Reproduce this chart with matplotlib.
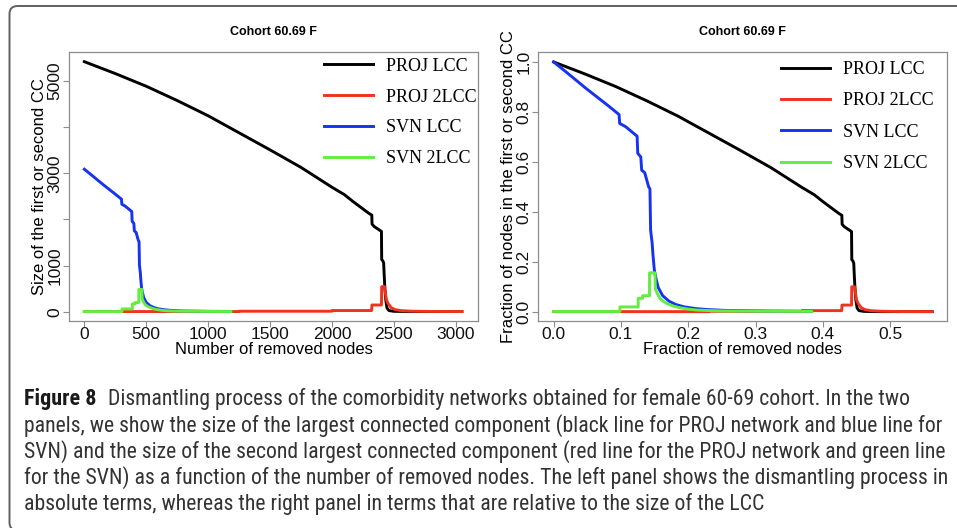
import matplotlib
matplotlib.use('Agg')
import matplotlib.pyplot as plt
from matplotlib import font_manager
from matplotlib.font_manager import FontProperties
from matplotlib.patches import FancyBboxPatch
from matplotlib.lines import Line2D

# ---------------- data (absolute number of nodes) ----------------
proj_lcc_x = [0, 250, 500, 750, 1000, 1250, 1500, 1750, 2000, 2100, 2170, 2240, 2300, 2322,
              2324, 2340, 2395, 2400, 2402, 2412, 2418, 2422, 2428, 2435, 2445, 2460, 2500, 2600, 3050]
proj_lcc_y = [5423, 5165, 4890, 4580, 4250, 3880, 3510, 3130, 2700, 2540, 2390, 2250, 2130, 2095,
              1900, 1850, 1750, 1740, 1130, 1100, 1050, 800, 500, 250, 80, 25, 8, 4, 3]

proj_2lcc_x = [0, 1250, 1252, 2000, 2002, 2321, 2323, 2400, 2402, 2425, 2432, 2440, 2455,
               2480, 2510, 2560, 2650, 2800, 3050]
proj_2lcc_y = [3, 3, 10, 10, 25, 25, 145, 145, 543, 543, 400, 260, 170, 85, 45, 22, 10, 5, 3]

svn_lcc_x = [0, 60, 150, 250, 300, 303, 330, 383, 386, 400, 404, 418, 436, 442, 445, 452,
             456, 462, 468, 480, 500, 530, 560, 600, 650, 700, 800, 1000, 1185]
svn_lcc_y = [3090, 2960, 2760, 2550, 2440, 2330, 2290, 2172, 1960, 1915, 1752, 1720, 1545, 1520,
             1010, 850, 700, 520, 430, 300, 200, 130, 90, 60, 40, 28, 15, 8, 5]

svn_2lcc_x = [0, 304, 304, 388, 388, 408, 408, 440, 440, 465, 467, 475, 488, 500, 519, 550,
              580, 620, 657, 720, 800, 1000, 1185]
svn_2lcc_y = [3, 3, 60, 60, 166, 166, 198, 198, 482, 482, 280, 230, 166, 135, 104, 70, 49,
              32, 21, 14, 9, 5, 4]

proj_size = 5423   # initial LCC size of PROJ network
svn_size = 3090    # initial LCC size of SVN network

series_labels = ['PROJ LCC', 'PROJ 2LCC', 'SVN LCC', 'SVN 2LCC']
series_colors = ['#000000', '#f0321f', '#1533f0', '#62ee3e']

panel_title = 'Cohort 60.69 F'
left_xticks = [0, 500, 1000, 1500, 2000, 2500, 3000]
left_yticks = [0, 1000, 2000, 3000, 4000, 5000]
left_yticklabels = ['0', '1000', '', '3000', '', '5000']
right_xticks = [0.0, 0.1, 0.2, 0.3, 0.4, 0.5]
right_yticks = [0.0, 0.2, 0.4, 0.6, 0.8, 1.0]

caption_head = 'Figure 8'
caption_lines = [
    'Dismantling process of the comorbidity networks obtained for female 60-69 cohort. In the two',
    'panels, we show the size of the largest connected component (black line for PROJ network and blue line for',
    'SVN) and the size of the second largest connected component (red line for the PROJ network and green line',
    'for the SVN) as a function of the number of removed nodes. The left panel shows the dismantling process in',
    'absolute terms, whereas the right panel in terms that are relative to the size of the LCC',
]


def pick(fams):
    for f in fams:
        try:
            font_manager.findfont(FontProperties(family=f), fallback_to_default=False)
            return f
        except Exception:
            pass
    return 'DejaVu Sans'


def find_condensed(bold=False):
    prefs = ['Liberation Sans Narrow', 'Open Sans Condensed', 'Roboto Condensed',
             'DejaVu Sans Condensed', 'Noto Sans Condensed', 'DejaVu Sans']
    cands = []
    for fe in font_manager.fontManager.ttflist:
        fn = fe.fname.lower()
        if not ('narrow' in fn or 'condensed' in fn or 'cond' in fn):
            continue
        if 'italic' in fn or 'oblique' in fn:
            continue
        isbold = ('bold' in fn) or (fe.weight in ('bold', 700))
        if isbold != bold:
            continue
        if ('semibold' in fn or 'light' in fn or 'extra' in fn or 'thin' in fn
                or 'medium' in fn or 'black' in fn or 'semi' in fn):
            continue
        rank = len(prefs)
        for i, p in enumerate(prefs):
            if p.lower().replace(' ', '') in fn.replace(' ', '').replace('-', '').replace('_', ''):
                rank = i
                break
        cands.append((rank, fe.fname))
    if cands:
        cands.sort()
        return FontProperties(fname=cands[0][1])
    fam = pick(['Open Sans', 'Noto Sans', 'DejaVu Sans'])
    return FontProperties(family=fam, weight='bold' if bold else 'normal')


SANS = pick(['Liberation Sans', 'Arial', 'DejaVu Sans'])
SERIF = pick(['Liberation Serif', 'DejaVu Serif'])
CAP_REG = find_condensed(False)
CAP_BOLD = find_condensed(True)

plt.rcParams['font.family'] = [SANS, 'DejaVu Sans']

W, H = 957, 528
fig = plt.figure(figsize=(W / 100, H / 100), dpi=100)
fig.patch.set_facecolor('white')


def px_axes(x0, y0, x1, y1):
    return fig.add_axes([x0 / W, 1 - y1 / H, (x1 - x0) / W, (y1 - y0) / H])


axL = px_axes(69, 52, 478, 321)
axR = px_axes(538, 52, 947, 321)

LW = 2.1
xs_abs = [proj_lcc_x, proj_2lcc_x, svn_lcc_x, svn_2lcc_x]
ys_abs = [proj_lcc_y, proj_2lcc_y, svn_lcc_y, svn_2lcc_y]
norms = [proj_size, proj_size, svn_size, svn_size]

for xs, ys, c in zip(xs_abs, ys_abs, series_colors):
    axL.plot(xs, ys, color=c, lw=LW, solid_joinstyle='round')
for xs, ys, n, c in zip(xs_abs, ys_abs, norms, series_colors):
    axR.plot([v / n for v in xs], [v / n for v in ys], color=c, lw=LW, solid_joinstyle='round')

axL.set_xlim(-124, 3180)
axL.set_ylim(-202, 5633)
axR.set_xlim(-0.0233, 0.5844)
axR.set_ylim(-0.037, 1.040)

axL.set_xticks(left_xticks)
axL.set_xticklabels([str(v) for v in left_xticks])
axL.set_yticks(left_yticks)
axL.set_yticklabels(left_yticklabels)
axR.set_xticks(right_xticks)
axR.set_xticklabels(['%.1f' % v for v in right_xticks])
axR.set_yticks(right_yticks)
axR.set_yticklabels(['%.1f' % v for v in right_yticks])

axL.set_xlabel('Number of removed nodes', fontsize=12)
axL.set_ylabel('Size of the first or second CC', fontsize=12)
axR.set_xlabel('Fraction of removed nodes', fontsize=12)
axR.set_ylabel('Fraction of nodes in the first or second CC', fontsize=12)

for ax in (axL, axR):
    for s in ax.spines.values():
        s.set_color('#8c8c8c')
        s.set_linewidth(0.9)
    ax.tick_params(axis='both', direction='out', length=4, width=0.8, color='#8c8c8c',
                   labelsize=12.5, labelcolor='#111111', pad=0.5)
    ax.tick_params(axis='y', labelrotation=90)
    for lab in ax.get_yticklabels():
        lab.set_verticalalignment('center')
    ax.set_title(panel_title, fontsize=9, fontweight='bold', pad=12)
    ax.xaxis.set_label_coords(0.5, -0.079)
    ax.yaxis.set_label_coords(-0.055, 0.5)

handles = [Line2D([], [], color=c, lw=LW) for c in series_colors]
legprops = dict(frameon=False, loc='upper left', borderpad=0, borderaxespad=0,
                handlelength=2.7, handletextpad=0.75,
                prop={'family': SERIF, 'size': 13})
axL.legend(handles, series_labels, bbox_to_anchor=(0.623, 0.979), labelspacing=0.77, **legprops)
axR.legend(handles, series_labels, bbox_to_anchor=(0.594, 0.967), labelspacing=0.80, **legprops)

# ---------------- frame ----------------
frame = FancyBboxPatch((9.5, -2.5), 1200, H - 3.5, boxstyle='round,pad=0,rounding_size=8',
                       transform=None, fill=False, edgecolor='#606060', lw=1.4, zorder=5)
fig.patches.append(frame)

# ---------------- caption ----------------
renderer = fig.canvas.get_renderer()
baselines = [405, 431.5, 457.5, 484, 510]
x0 = 24
target_w = 940 - x0

probe = fig.text(0, 0, caption_lines[1], fontproperties=CAP_REG, fontsize=10)
wprobe = probe.get_window_extent(renderer).width
probe.remove()
cap_fs = 10 * target_w / wprobe

probe = fig.text(0, 0, caption_head, fontproperties=CAP_BOLD, fontsize=10)
whead = probe.get_window_extent(renderer).width
probe.remove()
head_fs = min(10 * 72 / whead, cap_fs * 1.15)

fig.text(x0 / W, 1 - baselines[0] / H, caption_head, fontproperties=CAP_BOLD,
         fontsize=head_fs, va='baseline', ha='left', color='#1a1a1a')
fig.text(108 / W, 1 - baselines[0] / H, caption_lines[0], fontproperties=CAP_REG,
         fontsize=cap_fs, va='baseline', ha='left', color='#333333')
for line, b in zip(caption_lines[1:], baselines[1:]):
    fig.text(x0 / W, 1 - b / H, line, fontproperties=CAP_REG, fontsize=cap_fs,
             va='baseline', ha='left', color='#333333')

fig.savefig('out.png', dpi=100, facecolor='white')
